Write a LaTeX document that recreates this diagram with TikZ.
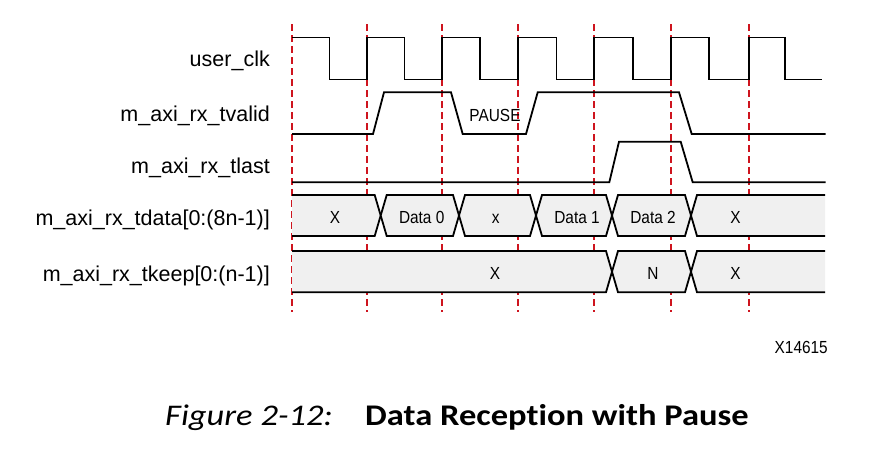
\documentclass[tikz,border=0pt]{standalone}
\usepackage{fontspec}
\setmainfont{Liberation Sans}
\newfontfamily\valfont[FakeStretch=0.88]{Liberation Sans}
\newfontfamily\capfont[FakeStretch=1.15,Ligatures=NoCommon]{Carlito}
\definecolor{busfill}{RGB}{240,240,240}
\definecolor{gridred}{RGB}{206,20,30}
\newcommand\tdmidseg[5]{%
  \draw[sig,fill=busfill] (#1,#4) -- (#1+6,#3) -- (#2-6,#3) -- (#2,#4) -- (#2-6,#5) -- (#1+6,#5) -- cycle;}
\newcommand\tdfirstseg[5]{%
  \fill[busfill] (#1,#3) -- (#2-6,#3) -- (#2,#4) -- (#2-6,#5) -- (#1,#5) -- cycle;
  \draw[sig] (#1,#3) -- (#2-6,#3) -- (#2,#4) -- (#2-6,#5) -- (#1,#5);}
\newcommand\tdlastseg[5]{%
  \fill[busfill] (#2,#3) -- (#1+6,#3) -- (#1,#4) -- (#1+6,#5) -- (#2,#5) -- cycle;
  \draw[sig] (#2,#3) -- (#1+6,#3) -- (#1,#4) -- (#1+6,#5) -- (#2,#5);}
\begin{document}
\begin{tikzpicture}[x=1pt,y=-1pt,
  sig/.style={line width=1.8pt,black,line join=miter},
  gridline/.style={draw=gridred,dash pattern=on 6.5pt off 4.5pt,line width=1.1pt},
  lbl/.style={anchor=base east,inner sep=0pt,font=\fontsize{21.5}{24}\selectfont},
  val/.style={anchor=base,inner sep=0pt,font=\valfont\fontsize{17.5}{20}\selectfont}]
\useasboundingbox[fill=white] (0,0) rectangle (881,451);
% grid lines
\foreach \x in {292,367,442,518,594,671,749}
  \draw[gridline] (\x,24) -- (\x,312);
% labels
\node[lbl] (lclk) at (270,66.7) {user\_clk};
\node[lbl] (lvalid) at (270,121.7) {m\_axi\_rx\_tvalid};
\node[lbl] (llast) at (270,173.5) {m\_axi\_rx\_tlast};
\node[lbl] (ldata) at (270,225) {m\_axi\_rx\_tdata[0:(8n-1)]};
\node[lbl] (lkeep) at (270,281.7) {m\_axi\_rx\_tkeep[0:(n-1)]};
% clock
\draw[sig] (292,37.5) -- (329.5,37.5) -- (329.5,79.5) -- (367,79.5) -- (367,37.5)
  -- (404.5,37.5) -- (404.5,79.5) -- (442,79.5) -- (442,37.5)
  -- (480,37.5) -- (480,79.5) -- (518,79.5) -- (518,37.5)
  -- (556.5,37.5) -- (556.5,79.5) -- (594,79.5) -- (594,37.5)
  -- (633,37.5) -- (633,79.5) -- (671,79.5) -- (671,37.5)
  -- (709,37.5) -- (709,79.5) -- (749,79.5) -- (749,37.5)
  -- (785,37.5) -- (785,79.5) -- (822,79.5);
% tvalid
\draw[sig] (292,134) -- (373,134) -- (384,92.3) -- (451,92.3) -- (462.7,134)
  -- (526,134) -- (537.7,92.3) -- (679,92.3) -- (691.7,134) -- (825.7,134);
\node[val] (pause) at (495,121.7) {PAUSE};
% tlast
\draw[sig] (292,182.3) -- (609.3,182.3) -- (619,141.7) -- (680.7,141.7)
  -- (692.7,182.3) -- (825.7,182.3);
% tdata
\tdfirstseg{292}{380.7}{195}{215.5}{236}
\tdmidseg{380.7}{459}{195}{215.5}{236}
\tdmidseg{459}{536}{195}{215.5}{236}
\tdmidseg{536}{612}{195}{215.5}{236}
\tdmidseg{612}{691}{195}{215.5}{236}
\tdlastseg{691}{825}{195}{215.5}{236}
\node[val] (d1) at (335,223.3) {X};
\node[val] (d2) at (421.7,223.3) {Data 0};
\node[val] (d3) at (495.7,223.3) {x};
\node[val] (d4) at (577,223.3) {Data 1};
\node[val] (d5) at (653,223.3) {Data 2};
\node[val] (d6) at (735.5,223.3) {X};
% tkeep
\tdfirstseg{292}{612}{251}{271.7}{292.3}
\tdmidseg{612}{691}{251}{271.7}{292.3}
\tdlastseg{691}{825}{251}{271.7}{292.3}
\node[val] (k1) at (495,279.3) {X};
\node[val] (k2) at (653,279.3) {N};
\node[val] (k3) at (735.5,279.3) {X};
% figure id
\node[val,anchor=base east] (fid) at (828,353.3) {X14615};
% caption
\node[anchor=base west,inner sep=0pt,font=\capfont\itshape\fontsize{30}{34}\selectfont] (capnum) at (165,425.7) {Figure 2-12:};
\node[anchor=base west,inner sep=0pt,font=\capfont\bfseries\fontsize{30}{34}\selectfont] (captitle) at (365,425.7) {Data Reception with Pause};
\end{tikzpicture}
\end{document}
